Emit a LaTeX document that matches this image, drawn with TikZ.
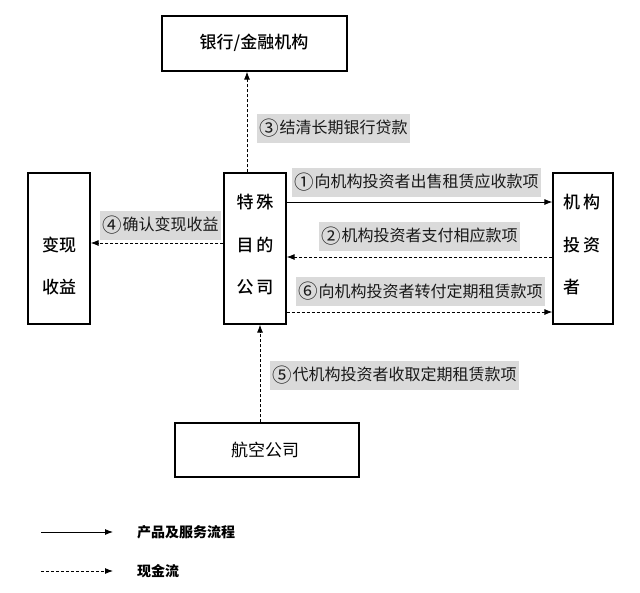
\documentclass[tikz,border=0pt]{standalone}
\usepackage{fontspec}
\setmainfont{Noto Sans CJK SC}
\newfontfamily\medfont{Noto Sans CJK SC Medium}
\usetikzlibrary{arrows.meta}
\definecolor{lblgray}{RGB}{218,218,218}
\newcommand{\cnum}[1]{\raisebox{-0.1em}{\scalebox{1.22}{#1}}\hspace{0.5pt}}
\begin{document}
\begin{tikzpicture}[x=1pt,y=-1pt,
  box/.style={draw=black,line width=1.2pt,inner sep=0pt},
  boxtext/.style={font=\fontsize{17}{17}\selectfont\medfont,inner sep=0pt},
  lbl/.style={fill=lblgray,font=\fontsize{16}{16}\selectfont,text=black!90,inner xsep=2.5pt,minimum height=29pt,anchor=west},
  flow/.style={line width=0.9pt,-{Latex[length=8pt,width=6pt]}},
  cash/.style={line width=0.9pt,dash pattern=on 3pt off 2pt,-{Latex[length=8pt,width=6pt]}},
  legtext/.style={font=\fontsize{14}{14}\selectfont\bfseries,anchor=west,inner sep=0pt}]
\useasboundingbox (0,0) rectangle (640,592);
% boxes
\node[box,minimum width=185pt,minimum height=55pt] (bank) at (254.5,43.5) {};
\node[boxtext] (banktxt) at (254,43) {银行/金融机构};
\node[box,minimum width=62pt,minimum height=151pt] (chg) at (59,248.5) {};
\node[boxtext] (chg1) at (59,245) {变现};
\node[boxtext] (chg2) at (59,287) {收益};
\node[box,minimum width=62pt,minimum height=151pt] (spv) at (255,248.5) {};
\node[boxtext] (spv1) at (255,202) {特\hspace{3pt}殊};
\node[boxtext] (spv2) at (255,245) {目\hspace{3pt}的};
\node[boxtext] (spv3) at (255,287) {公\hspace{3pt}司};
\node[box,minimum width=60pt,minimum height=151pt] (inv) at (583,248.5) {};
\node[boxtext,anchor=west] (inv1) at (563,202) {机\hspace{3pt}构};
\node[boxtext,anchor=west] (inv2) at (563,245) {投\hspace{3pt}资};
\node[boxtext,anchor=west] (inv3) at (563,287) {者};
\node[box,minimum width=184pt,minimum height=54pt] (air) at (267,450) {};
\node[boxtext,font=\fontsize{17}{17}\selectfont] (airtxt) at (265,450) {航空公司};
% row coordinates
\coordinate (r1) at (0,202);
\coordinate (r2) at (0,257);
\coordinate (r6) at (0,312);
\coordinate (r4) at (0,243);
% arrows
\draw[cash] ([xshift=-8pt]spv.north) -- ([xshift=-8pt]spv.north |- bank.south);
\draw[flow] (spv.east |- r1) -- (inv.west |- r1);
\draw[cash] (inv.west |- r2) -- (spv.east |- r2);
\draw[cash] (spv.east |- r6) -- (inv.west |- r6);
\draw[cash] (spv.west |- r4) -- (chg.east |- r4);
\draw[cash] ([xshift=5pt]spv.south |- air.north) -- ([xshift=5pt]spv.south);
% labels
\node[lbl] (l3) at (257,128) {\cnum{③}结清长期银行贷款};
\node[lbl] (l1) at (292,182) {\cnum{①}向机构投资者出售租赁应收款项};
\node[lbl] (l2) at (319,236) {\cnum{②}机构投资者支付相应款项};
\node[lbl] (l6) at (296,291.5) {\cnum{⑥}向机构投资者转付定期租赁款项};
\node[lbl] (l4) at (100,225) {\cnum{④}确认变现收益};
\node[lbl] (l5) at (270,375) {\cnum{⑤}代机构投资者收取定期租赁款项};
% legend
\coordinate (la1) at (41,532);
\coordinate (lb1) at (113,532);
\coordinate (la2) at (41,571);
\coordinate (lb2) at (113,571);
\draw[flow] (la1) -- (lb1);
\draw[cash] (la2) -- (lb2);
\node[legtext] (lt1) at (137,532) {产品及服务流程};
\node[legtext] (lt2) at (137,571) {现金流};
\end{tikzpicture}
\end{document}
